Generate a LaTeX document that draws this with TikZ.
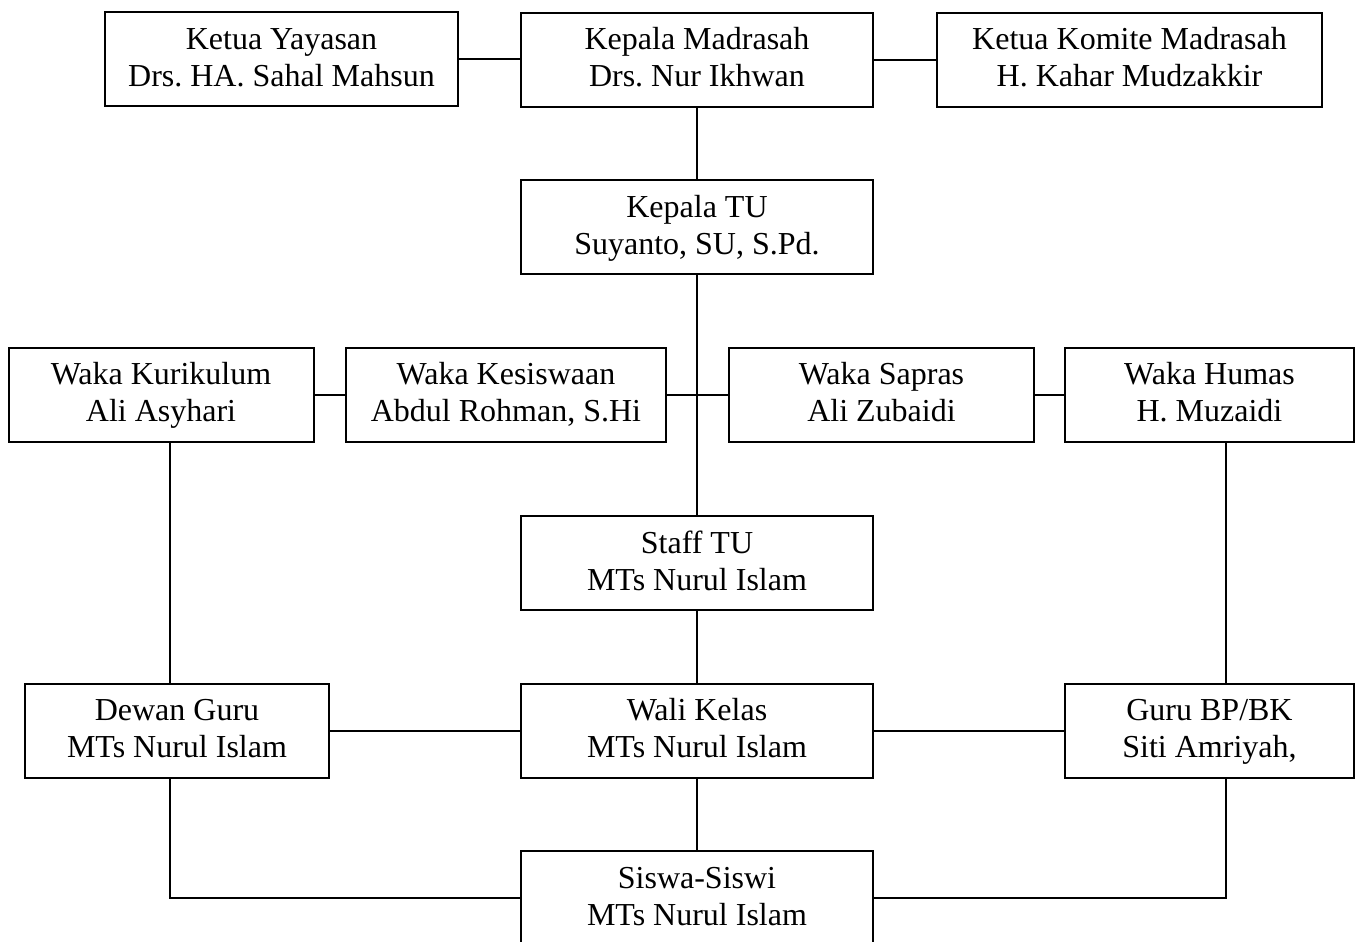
\documentclass[tikz,border=0pt]{standalone}
\usepackage{fontspec}
\setmainfont{Liberation Serif}
\newcommand{\ls}{\rule[-5pt]{0pt}{18.5pt}}
\newcommand{\twol}[2]{\ls#1\\\ls#2}
\begin{document}
\frenchspacing
\begin{tikzpicture}[x=0.5pt,y=-0.5pt,
  box/.style={draw,line width=1pt,inner sep=0pt,align=center,minimum height=47pt,
    font=\fontsize{16}{18.5}\selectfont},
  conn/.style={line width=1pt}]
\useasboundingbox (0,0) rectangle (1360,942);
\node[box,minimum width=176.5pt] (yay) at (281.5,59) {\twol{Ketua Yayasan}{Drs. HA. Sahal Mahsun}};
\node[box,minimum width=176pt] (mad) at (697,59.5) {\twol{Kepala Madrasah}{Drs. Nur Ikhwan}};
\node[box,minimum width=192.5pt] (kom) at (1129.5,59.5) {\twol{Ketua Komite Madrasah}{H. Kahar Mudzakkir}};
\node[box,minimum width=176pt] (ktu) at (697,227) {\twol{Kepala TU}{Suyanto, SU, S.Pd.}};
\node[box,minimum width=152.5pt] (kur) at (161,394.5) {\twol{Waka Kurikulum}{Ali Asyhari}};
\node[box,minimum width=160pt] (kes) at (506,394.5) {\twol{Waka Kesiswaan}{Abdul Rohman, S.Hi}};
\node[box,minimum width=152.5pt] (sap) at (881.5,394.5) {\twol{Waka Sapras}{Ali Zubaidi}};
\node[box,minimum width=144.5pt] (hum) at (1209.5,394.5) {\twol{Waka Humas}{H. Muzaidi}};
\node[box,minimum width=176pt] (stf) at (697,563) {\twol{Staff TU}{MTs Nurul Islam}};
\node[box,minimum width=152pt] (dew) at (177,730.5) {\twol{Dewan Guru}{MTs Nurul Islam}};
\node[box,minimum width=176pt] (wal) at (697,730.5) {\twol{Wali Kelas}{MTs Nurul Islam}};
\node[box,minimum width=144.5pt] (bp) at (1209.5,730.5) {\twol{Guru BP/BK}{Siti Amriyah,}};
\node[box,minimum width=176pt] (sis) at (697,898) {\twol{Siswa-Siswi}{MTs Nurul Islam}};
\coordinate (vl) at (170,0);
\coordinate (vr) at (1226,0);
\draw[conn] (yay.east) -- (mad.west |- yay.east);
\draw[conn] (mad.east) -- (kom.west);
\draw[conn] (mad.south) -- (ktu.north);
\draw[conn] (ktu.south) -- (stf.north);
\draw[conn] (kur.east) -- (kes.west);
\draw[conn] (kes.east) -- (sap.west);
\draw[conn] (sap.east) -- (hum.west);
\draw[conn] (kur.south -| vl) -- (dew.north -| vl);
\draw[conn] (hum.south -| vr) -- (bp.north -| vr);
\draw[conn] (stf.south) -- (wal.north);
\draw[conn] (dew.east) -- (wal.west);
\draw[conn] (wal.east) -- (bp.west);
\draw[conn] (wal.south) -- (sis.north);
\draw[conn] (dew.south -| vl) |- (sis.west);
\draw[conn] (bp.south -| vr) |- (sis.east);
\end{tikzpicture}
\end{document}
